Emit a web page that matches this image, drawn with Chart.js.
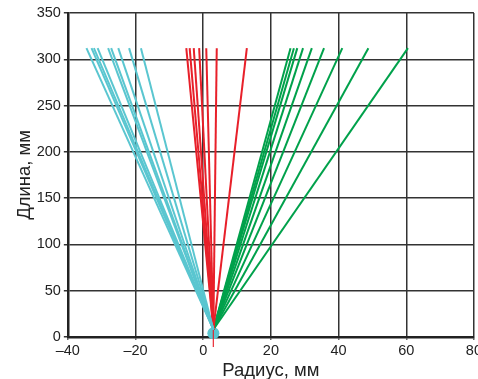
<!DOCTYPE html>
<html>
<head>
<meta charset="utf-8">
<script src="https://cdn.jsdelivr.net/npm/chart.js@4/dist/chart.umd.min.js"></script>
<style>
  html, body { margin: 0; padding: 0; background: #fff; overflow: hidden; }
  #wrap { width: 486px; height: 379px; }
</style>
</head>
<body>
<div id="wrap"><canvas id="chart"></canvas></div>
<script>
// common start point of all the lines and the height they reach
const startX = 3
const startY = 8
const topY = 312

// x positions of the upper line ends (мм)
const cyanTops = [-34.5, -33, -32.3, -31.2, -28.1, -27.2, -25.1, -21.9, -18.4]
const redTops = [-5, -4, -2.8, -1.2, 0.9, 4.0, 12.9]
const greenTops = [25.8, 26.8, 27.8, 29.5, 32.1, 35.7, 41.1, 48.8, 60.5]

// red tail under the axis
const tail = [{x: 3, y: 8}, {x: 3, y: -11}]

const xTicks = [-40, -20, 0, 20, 40, 60, 80]
const yTicks = [0, 50, 100, 150, 200, 250, 300, 350]

const makeLines = function(tops, color){
    return tops.map(t => ({
        data: [{x: startX, y: startY}, {x: t, y: topY}],
        showLine: true,
        borderColor: color,
        borderWidth: 2,
        pointRadius: 0,
        fill: false
    }))
}

const datasets = []
    .concat(makeLines(cyanTops, "#5ac6d0"))
    .concat(makeLines(redTops, "#e8202a"))
    .concat(makeLines(greenTops, "#00a14b"))

datasets.push({
    data: tail,
    showLine: true,
    borderColor: "rgba(232,32,42,0.6)",
    borderWidth: 1,
    pointRadius: 0,
    clip: false
})
// the dot at the bottom
datasets.push({
    data: [{x: startX, y: 4}],
    pointRadius: 6,
    pointBackgroundColor: "#5ac6d0",
    pointBorderWidth: 0,
    clip: false
})

const tickFont = {family: "'Liberation Sans', Arial, sans-serif", size: 14.5, lineHeight: 1}
const titleFont = {family: "'Liberation Sans', Arial, sans-serif", size: 18.5, lineHeight: 0.9}

new Chart(document.querySelector("#chart"), {
    type: "scatter",
    data: {datasets: datasets},
    options: {
        responsive: true,
        maintainAspectRatio: false,
        animation: false,
        layout: {padding: {top: 13, left: 17, right: 0, bottom: 0}},
        plugins: {legend: {display: false}, tooltip: {enabled: false}},
        scales: {
            x: {
                type: "linear",
                min: -40, max: 80,
                afterBuildTicks: s => { s.ticks = xTicks.map(v => ({value: v})) },
                ticks: {
                    color: "#222", font: tickFont, padding: 4, maxRotation: 0,
                    callback: v => v < 0 ? "–" + Math.abs(v) : v
                },
                grid: {color: "#333", lineWidth: 1.5, tickLength: 3},
                border: {color: "#222", width: 2.5},
                title: {display: true, text: "Радиус, мм", color: "#222", font: titleFont, padding: {top: 0, bottom: 0}}
            },
            y: {
                min: 0, max: 350,
                afterBuildTicks: s => { s.ticks = yTicks.map(v => ({value: v})) },
                ticks: {color: "#222", font: tickFont, padding: 3},
                grid: {color: "#333", lineWidth: 1.5, tickLength: 4},
                border: {color: "#222", width: 2.5},
                title: {display: true, text: "Длина, мм", color: "#222", font: titleFont, padding: {top: 0, bottom: 0}}
            }
        }
    }
})
</script>
</body>
</html>
